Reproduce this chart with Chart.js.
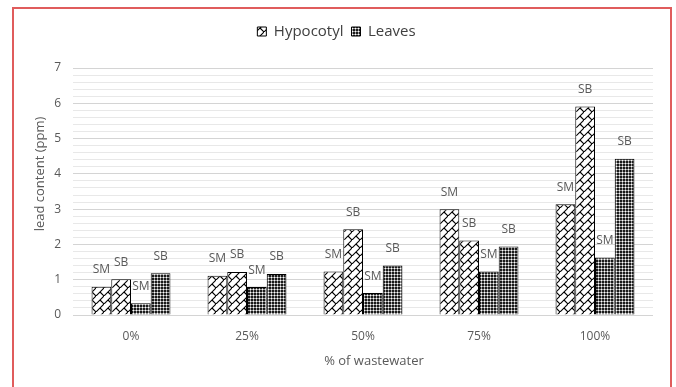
<!DOCTYPE html>
<html>
<head>
<meta charset="utf-8">
<script src="https://cdn.jsdelivr.net/npm/chart.js@4.4.1/dist/chart.umd.min.js"></script>
<style>
  html, body { margin: 0; padding: 0; background: #fff; overflow: hidden; }
  #wrap { position: relative; width: 676px; height: 387px; }
  #frame { position: absolute; left: 12px; top: 7px; width: 656px; height: 400px;
           border: 2px solid #e05c5c; pointer-events: none; }
</style>
</head>
<body>
<div id="wrap">
  <canvas id="c" width="676" height="387"></canvas>
  <div id="frame"></div>
</div>
<script>
// Lead content (ppm) by wastewater share
const categories  = ['0%', '25%', '50%', '75%', '100%'];
const hypocotylSM = [0.80, 1.11, 1.23, 3.00, 3.14];
const hypocotylSB = [1.01, 1.22, 2.43, 2.11, 5.91];
const leavesSM    = [0.33, 0.79, 0.62, 1.23, 1.63];
const leavesSB    = [1.18, 1.16, 1.40, 1.94, 4.43];
const barTags     = ['SM', 'SB', 'SM', 'SB'];
const yMax = 7;
const yTitle = 'lead content (ppm)';
const xTitle = '% of wastewater';

const GREY = '#595959';
const FONT = '"Open Sans", "Liberation Sans", sans-serif';

// Excel-like fill patterns
function brickPattern() {
  const s = 8;
  const c = document.createElement('canvas');
  c.width = c.height = s;
  const g = c.getContext('2d');
  g.fillStyle = '#fff';
  g.fillRect(0, 0, s, s);
  g.strokeStyle = '#000';
  g.lineWidth = 1.1;
  g.beginPath();
  g.moveTo(-1, s + 1); g.lineTo(s + 1, -1);
  g.moveTo(s / 2, s / 2); g.lineTo(s + 1, s + 1);
  g.stroke();
  return g.createPattern(c, 'repeat');
}
function dotPattern() {
  const s = 3;
  const c = document.createElement('canvas');
  c.width = c.height = s;
  const g = c.getContext('2d');
  g.fillStyle = '#1a1a1a';
  g.fillRect(0, 0, s, s);
  g.fillStyle = '#9a9a9a';
  g.fillRect(1, 0, 1, s);
  g.fillRect(0, 1, s, 1);
  g.fillStyle = '#fff';
  g.fillRect(1, 1, 1, 1);
  return g.createPattern(c, 'repeat');
}
const brick = brickPattern();
const dots = dotPattern();

// SM / SB tags above each bar
const tagPlugin = {
  id: 'barTags',
  afterDatasetsDraw(chart) {
    const ctx = chart.ctx;
    ctx.save();
    ctx.font = '12px ' + FONT;
    ctx.fillStyle = GREY;
    ctx.textAlign = 'center';
    ctx.textBaseline = 'middle';
    chart.data.datasets.forEach((ds, i) => {
      chart.getDatasetMeta(i).data.forEach(bar => {
        ctx.fillText(barTags[i], bar.x, bar.y - 17);
      });
    });
    ctx.restore();
  }
};

// Axis titles
const titlePlugin = {
  id: 'axisTitles',
  afterDraw(chart) {
    const ctx = chart.ctx;
    ctx.save();
    ctx.font = '13px ' + FONT;
    ctx.fillStyle = GREY;
    ctx.textAlign = 'center';
    ctx.textBaseline = 'middle';
    ctx.fillText(xTitle, 374, 361);
    ctx.translate(40, 174);
    ctx.rotate(-Math.PI / 2);
    ctx.fillText(yTitle, 0, 0);
    ctx.restore();
  }
};

const isWhole = v => Math.abs(v - Math.round(v)) < 1e-6;

new Chart(document.getElementById('c'), {
  type: 'bar',
  data: {
    labels: categories,
    datasets: [
      { label: 'Hypocotyl', data: hypocotylSM, backgroundColor: brick, borderColor: '#000', borderWidth: 1 },
      { label: 'Hypocotyl', data: hypocotylSB, backgroundColor: brick, borderColor: '#000', borderWidth: 1 },
      { label: 'Leaves',    data: leavesSM,    backgroundColor: dots,  borderColor: '#000', borderWidth: 1 },
      { label: 'Leaves',    data: leavesSB,    backgroundColor: dots,  borderColor: '#000', borderWidth: 1 }
    ]
  },
  options: {
    responsive: false,
    animation: false,
    categoryPercentage: 0.68,
    barPercentage: 1.0,
    layout: { padding: { left: 20, right: 23, top: 16, bottom: 0 } },
    plugins: {
      tooltip: { enabled: false },
      legend: {
        position: 'top',
        labels: {
          filter: item => item.datasetIndex === 0 || item.datasetIndex === 2,
          font: { family: FONT, size: 15 },
          color: '#404040',
          boxWidth: 9,
          boxHeight: 9,
          padding: 8
        }
      }
    },
    scales: {
      x: {
        grid: { display: false, drawTicks: false },
        border: { display: false },
        ticks: { color: GREY, font: { family: FONT, size: 12 }, padding: 14 },
        afterFit(s) { s.height = 72; }
      },
      xGap: {
        type: 'category',
        labels: categories,
        position: 'top',
        grid: { display: false, drawTicks: false },
        border: { display: false },
        ticks: { display: false },
        afterFit(s) { s.height = 19; }
      },
      y: {
        min: 0,
        max: yMax,
        grid: {
          drawTicks: false,
          color: c => isWhole(c.tick.value) ? '#d4d4d4' : '#e8e8e8',
          lineWidth: 1
        },
        border: { display: false },
        ticks: {
          stepSize: 0.2,
          autoSkip: false,
          color: GREY,
          font: { family: FONT, size: 12 },
          padding: 12,
          callback: v => isWhole(v) ? String(Math.round(v)) : ''
        },
        afterFit(s) { s.width = 53; }
      }
    }
  },
  plugins: [tagPlugin, titlePlugin]
});
</script>
</body>
</html>
